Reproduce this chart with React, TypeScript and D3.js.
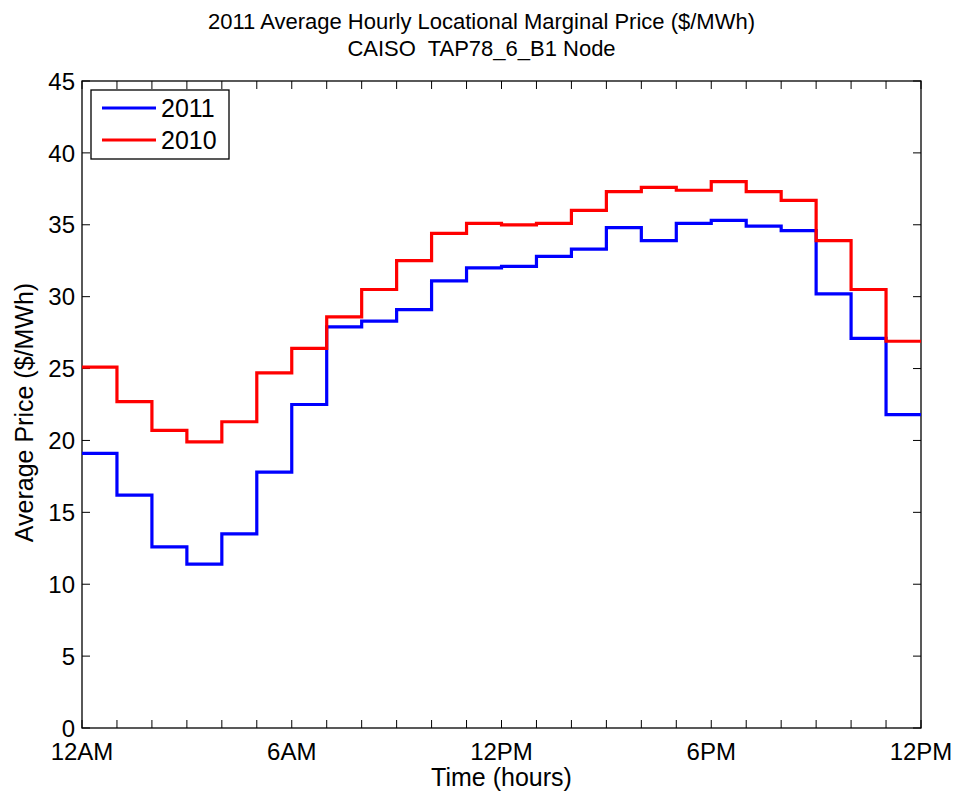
import { useEffect, useRef } from 'react';
import * as d3 from 'd3';

// Hourly average LMP, hour 0..23
const hours = d3.range(0, 24);
const price2011 = [
  19.1, 16.2, 12.6, 11.4, 13.5, 17.8, 22.5, 27.9, 28.3, 29.1, 31.1, 32.0,
  32.1, 32.8, 33.3, 34.8, 33.9, 35.1, 35.3, 34.9, 34.6, 30.2, 27.1, 21.8,
];
const price2010 = [
  25.1, 22.7, 20.7, 19.9, 21.3, 24.7, 26.4, 28.6, 30.5, 32.5, 34.4, 35.1,
  35.0, 35.1, 36.0, 37.3, 37.6, 37.4, 38.0, 37.3, 36.7, 33.9, 30.5, 26.9,
];
const seriesNames = ['2011', '2010'];
const seriesColors = ['#0000ff', '#ff0000'];
const xTickLabels = ['12AM', '6AM', '12PM', '6PM', '12PM'];
const yTicks = d3.range(0, 50, 5);

export default function App() {
  const svgRef = useRef<SVGSVGElement>(null);

  useEffect(() => {
    if (!svgRef.current) return;
    const W = 963;
    const H = 796;
    const margin = { top: 81, right: 42, bottom: 68, left: 82 };
    const width = W - margin.left - margin.right;
    const height = H - margin.top - margin.bottom;
    const font = 'Helvetica, Arial, "Liberation Sans", sans-serif';

    const root = d3.select(svgRef.current);
    root.selectAll('*').remove();
    root.attr('width', W).attr('height', H).style('font-family', font);
    root.append('rect').attr('width', W).attr('height', H).attr('fill', '#fff');

    const svg = root.append('g').attr('transform', `translate(${margin.left},${margin.top})`);

    const x = d3.scaleLinear().domain([0, 24]).range([0, width]);
    const y = d3.scaleLinear().domain([0, 45]).range([height, 0]);

    // frame
    svg
      .append('rect')
      .attr('width', width)
      .attr('height', height)
      .attr('fill', 'none')
      .attr('stroke', '#000')
      .attr('stroke-width', 1.3);

    const tickLen = 8;
    const xTicks = d3.range(0, 25);

    // x ticks (inward, bottom and top)
    svg
      .append('g')
      .selectAll('line')
      .data(xTicks)
      .join('line')
      .attr('x1', (d) => x(d))
      .attr('x2', (d) => x(d))
      .attr('y1', height)
      .attr('y2', height - tickLen)
      .attr('stroke', '#000');
    svg
      .append('g')
      .selectAll('line')
      .data(xTicks)
      .join('line')
      .attr('x1', (d) => x(d))
      .attr('x2', (d) => x(d))
      .attr('y1', 0)
      .attr('y2', tickLen)
      .attr('stroke', '#000');

    // y ticks (inward, left and right)
    svg
      .append('g')
      .selectAll('line')
      .data(yTicks)
      .join('line')
      .attr('x1', 0)
      .attr('x2', tickLen)
      .attr('y1', (d) => y(d))
      .attr('y2', (d) => y(d))
      .attr('stroke', '#000');
    svg
      .append('g')
      .selectAll('line')
      .data(yTicks)
      .join('line')
      .attr('x1', width)
      .attr('x2', width - tickLen)
      .attr('y1', (d) => y(d))
      .attr('y2', (d) => y(d))
      .attr('stroke', '#000');

    // tick labels
    svg
      .append('g')
      .selectAll('text')
      .data(yTicks)
      .join('text')
      .attr('x', -7)
      .attr('y', (d) => y(d))
      .attr('dy', '0.36em')
      .attr('text-anchor', 'end')
      .attr('font-size', '24px')
      .text((d) => d);

    svg
      .append('g')
      .selectAll('text')
      .data(xTickLabels)
      .join('text')
      .attr('x', (_, i) => x(i * 6))
      .attr('y', height + 32)
      .attr('text-anchor', 'middle')
      .attr('font-size', '24px')
      .text((d) => d);

    // axis labels
    svg
      .append('text')
      .attr('x', width / 2)
      .attr('y', height + 58)
      .attr('text-anchor', 'middle')
      .attr('font-size', '25px')
      .text('Time (hours)');
    svg
      .append('text')
      .attr('transform', 'rotate(-90)')
      .attr('x', -height / 2 - 8)
      .attr('y', -49)
      .attr('text-anchor', 'middle')
      .attr('font-size', '25px')
      .text('Average Price ($/MWh)');

    // title, centred on the figure
    root
      .append('text')
      .attr('x', W / 2)
      .attr('y', 29)
      .attr('text-anchor', 'middle')
      .attr('font-size', '22px')
      .text('2011 Average Hourly Locational Marginal Price ($/MWh)');
    root
      .append('text')
      .attr('x', W / 2)
      .attr('y', 56)
      .attr('text-anchor', 'middle')
      .attr('font-size', '22px')
      .style('white-space', 'pre')
      .text('CAISO  TAP78_6_B1 Node');

    // stairs, last value held to hour 24
    const line = d3
      .line<[number, number]>()
      .x((d) => x(d[0]))
      .y((d) => y(d[1]))
      .curve(d3.curveStepAfter);

    [price2011, price2010].forEach((vals, i) => {
      const pts: [number, number][] = hours.map((h, k) => [h, vals[k]]);
      pts.push([24, vals[vals.length - 1]]);
      svg
        .append('path')
        .datum(pts)
        .attr('d', line)
        .attr('fill', 'none')
        .attr('stroke', seriesColors[i])
        .attr('stroke-width', 3.2);
    });

    // legend
    const lg = svg.append('g').attr('transform', 'translate(9,9)');
    lg.append('rect')
      .attr('width', 138)
      .attr('height', 69)
      .attr('fill', '#fff')
      .attr('stroke', '#000')
      .attr('stroke-width', 1.3);
    seriesNames.forEach((name, i) => {
      const cy = 18 + i * 32;
      lg.append('line')
        .attr('x1', 11)
        .attr('x2', 65)
        .attr('y1', cy)
        .attr('y2', cy)
        .attr('stroke', seriesColors[i])
        .attr('stroke-width', 3.2);
      lg.append('text')
        .attr('x', 70)
        .attr('y', cy)
        .attr('dy', '0.36em')
        .attr('font-size', '25px')
        .text(name);
    });
  }, []);

  return <svg ref={svgRef} style={{ position: 'absolute', left: 0, top: 0, display: 'block' }} />;
}
